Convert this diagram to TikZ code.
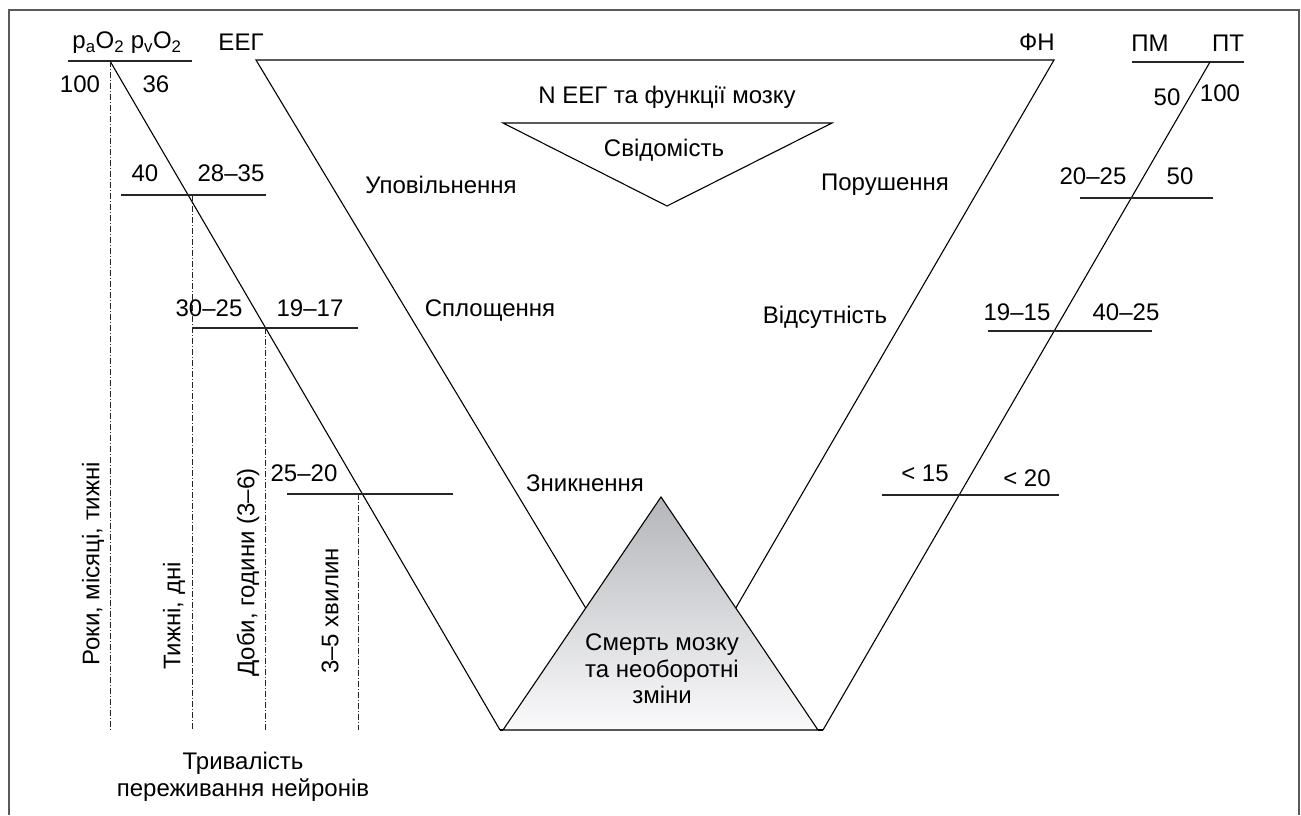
\documentclass[tikz,border=0pt]{standalone}
\usepackage{fontspec}
\setmainfont{Liberation Sans}
\begin{document}
\begin{tikzpicture}[x=1pt,y=-1pt,
  lbl/.style={font=\fontsize{24}{26.5}\selectfont, inner sep=0pt},
  vlbl/.style={font=\fontsize{24}{26.5}\selectfont, inner sep=0pt, rotate=90, anchor=west},
  ln/.style={line width=1.1pt, black},
  hln/.style={line width=1.3pt, black!85},
  dd/.style={line width=0.9pt, black!85, dash pattern=on 6pt off 2pt on 1pt off 2pt},
  frame/.style={line width=2pt, black!65}]
\useasboundingbox (0,0) rectangle (1301,815);
% frame (open at bottom)
\draw[frame] (9,815) -- (9,10) -- (1299,10) -- (1299,815);

% ---------- gray triangle ----------
\coordinate (gA) at (661,497);
\coordinate (gL) at (503,730);
\coordinate (gR) at (818,730);
\shade[top color={rgb,255:red,180;green,182;blue,186}, bottom color={rgb,255:red,250;green,250;blue,251}] (gA) -- (gL) -- (gR) -- cycle;
\draw[ln] (gA) -- (gL) -- (gR) -- cycle;
\node[lbl, align=center] (death) at (662,669) {Смерть мозку\\та необоротні\\зміни};

% ---------- big V ----------
\coordinate (vTL) at (256,60);
\coordinate (vTR) at (1054,60);
\coordinate (vBL) at (585.7,608);
\coordinate (vBR) at (735.8,608);
\draw[ln] (vBL) -- (vTL) -- (vTR) -- (vBR);

% small inverted triangle
\coordinate (sL) at (503,123);
\coordinate (sR) at (832,123);
\coordinate (sB) at (667,206);
\draw[ln] (sL) -- (sR) -- (sB) -- cycle;
\node[lbl] (neeg) at (667,97) {N ЕЕГ та функції мозку};
\node[lbl] (svid) at (664,150) {Свідомість};

\node[lbl] (eeg) at (241,42) {ЕЕГ};
\node[lbl] (fn) at (1037,42) {ФН};
\node[lbl] (upov) at (441,185) {Уповільнення};
\node[lbl] (porush) at (885,185) {Порушення};
\node[lbl] (splosh) at (490,311) {Сплощення};
\node[lbl] (vidsut) at (825,317) {Відсутність};
\node[lbl] (znykn) at (585,483) {Зникнення};

% ---------- left scale ----------
\node[lbl] (po2) at (127,43) {p\textsubscript{a}O\textsubscript{2} p\textsubscript{v}O\textsubscript{2}};
\coordinate (h0a) at (68,61); \coordinate (h0b) at (192,61);
\draw[hln] (h0a) -- (h0b);
\coordinate (dTop) at (110,61);
\coordinate (dBot) at (500,730);
\draw[ln] (dTop) -- (dBot);
\draw[ln] (dBot) -- (gL) (gR) -- (823,730) coordinate (eBot);

\node[lbl] (n100) at (80,84) {100};
\node[lbl] (n36) at (156,84) {36};

\node[lbl] (n40) at (145,173) {40};
\node[lbl] (n2835) at (231,173) {28–35};
\coordinate (h1a) at (121,195); \coordinate (h1b) at (266,195);
\draw[hln] (h1a) -- (h1b);

\node[lbl] (n3025) at (209,308) {30–25};
\node[lbl] (n1917) at (310,308) {19–17};
\coordinate (h2a) at (192,328); \coordinate (h2b) at (358,328);
\draw[hln] (h2a) -- (h2b);

\node[lbl] (n2520) at (304,473) {25–20};
\coordinate (h3a) at (287,494); \coordinate (h3b) at (453,494);
\draw[hln] (h3a) -- (h3b);

% dash-dot verticals
\coordinate (v1t) at (110,61);  \coordinate (v1b) at (110,730);
\coordinate (v2t) at (192,195); \coordinate (v2b) at (192,730);
\coordinate (v3t) at (265,328); \coordinate (v3b) at (265,730);
\coordinate (v4t) at (358,494); \coordinate (v4b) at (358,730);
\draw[dd] (v1t) -- (v1b);
\draw[dd] (v2t) -- (v2b);
\draw[dd] (v3t) -- (v3b);
\draw[dd] (v4t) -- (v4b);

\node[vlbl] (t1) at (93,666) {Роки, місяці, тижні};
\node[vlbl] (t2) at (174,670) {Тижні, дні};
\node[vlbl] (t3) at (248,677) {Доби, години (3–6)};
\node[vlbl] (t4) at (330,674) {3–5 хвилин};

\node[lbl, align=center] (tryv) at (243,777) {Тривалість\\переживання нейронів};

% ---------- right scale ----------
\node[lbl] (pm) at (1150,43) {ПМ};
\node[lbl] (pt) at (1228,43) {ПТ};
\coordinate (r0a) at (1132,62); \coordinate (r0b) at (1244,62);
\draw[hln] (r0a) -- (r0b);
\coordinate (eTop) at (1210,62);
\draw[ln] (eTop) -- (eBot);

\node[lbl] (r50) at (1167,97) {50};
\node[lbl] (r100) at (1220,93) {100};

\node[lbl] (r2025) at (1093,176) {20–25};
\node[lbl] (r50b) at (1180,176) {50};
\coordinate (r1a) at (1080,198); \coordinate (r1b) at (1213,198);
\draw[hln] (r1a) -- (r1b);

\node[lbl] (r1915) at (1017,312) {19–15};
\node[lbl] (r4025) at (1126,312) {40–25};
\coordinate (r2a) at (988,331); \coordinate (r2b) at (1152,331);
\draw[hln] (r2a) -- (r2b);

\node[lbl] (r15) at (925,473) {< 15};
\node[lbl] (r20) at (1027,478) {< 20};
\coordinate (r3a) at (882,495); \coordinate (r3b) at (1059,495);
\draw[hln] (r3a) -- (r3b);
\end{tikzpicture}
\end{document}
